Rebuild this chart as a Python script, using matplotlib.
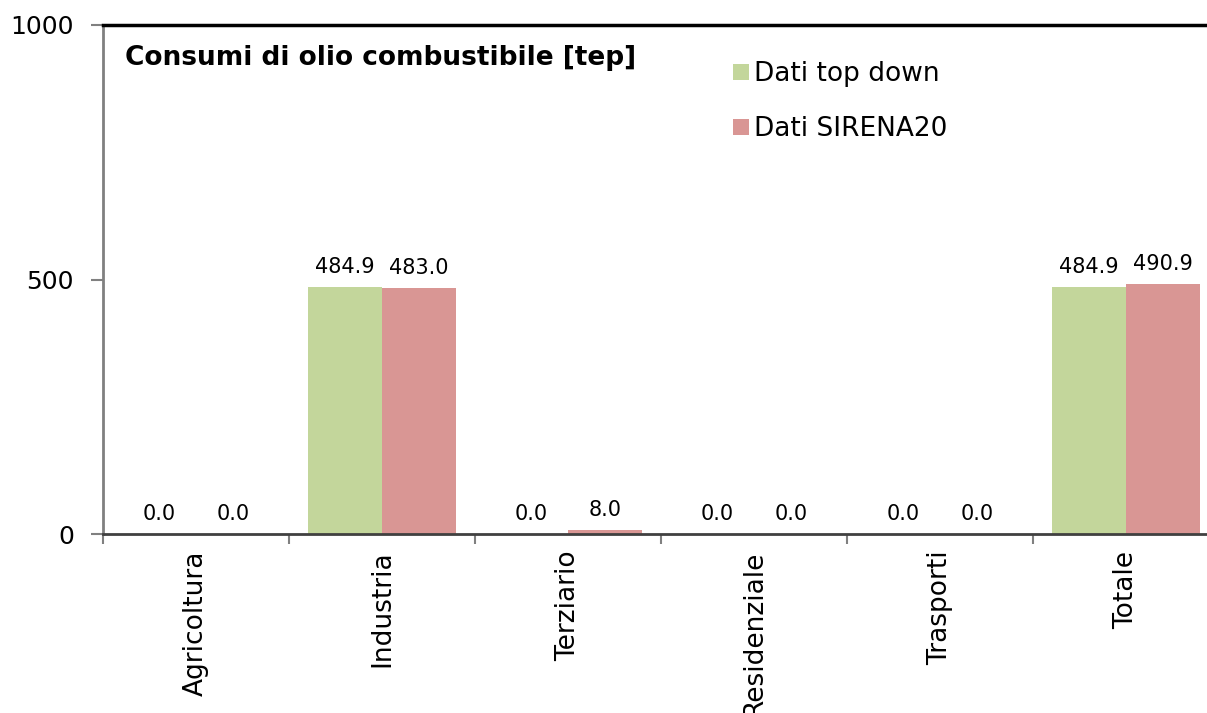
import matplotlib.pyplot as plt
import numpy as np

categories = ['Agricoltura', 'Industria', 'Terziario', 'Residenziale', 'Trasporti', 'Totale']
top_down = [0.0, 484.9, 0.0, 0.0, 0.0, 484.9]
sirena20 = [0.0, 483.0, 8.0, 0.0, 0.0, 490.9]
series_names = ['Dati top down', 'Dati SIRENA20']
title = 'Consumi di olio combustibile [tep]'

green = '#C3D69B'
red = '#D99694'

fig = plt.figure(figsize=(12.07, 7.13), dpi=100)
ax = fig.add_axes([103 / 1207, 179 / 713, 1116 / 1207, 509 / 713])

x = np.arange(len(categories)) + 0.5
w = 0.4
b1 = ax.bar(x - w / 2, top_down, w, color=green, label=series_names[0])
b2 = ax.bar(x + w / 2, sirena20, w, color=red, label=series_names[1])

for bars, vals in ((b1, top_down), (b2, sirena20)):
    for rect, v in zip(bars, vals):
        ax.annotate(f'{v:.1f}', (rect.get_x() + rect.get_width() / 2, v),
                    xytext=(0, 7), textcoords='offset points',
                    ha='center', va='bottom', fontsize=15)

ax.set_xlim(0, 6)
ax.set_ylim(0, 1000)
ax.set_yticks([0, 500, 1000])
ax.set_xticks(np.arange(len(categories) + 1))
ax.set_xticklabels([])
ax.set_xticks(x, minor=True)
ax.set_xticklabels(categories, minor=True, rotation=90, fontsize=19)
ax.tick_params(axis='x', which='minor', length=0, pad=12)
ax.tick_params(axis='x', which='major', length=7, width=1.5, color='#808080')
ax.tick_params(axis='y', length=9, width=1.5, color='#808080', labelsize=18, pad=12)

ax.spines['right'].set_visible(False)
ax.spines['left'].set_color('#808080')
ax.spines['left'].set_linewidth(2)
ax.spines['bottom'].set_color('#404040')
ax.spines['bottom'].set_linewidth(2)
ax.spines['top'].set_color('black')
ax.spines['top'].set_linewidth(2.5)

fig.text(125 / 1207, 1 - 58 / 713, title, fontsize=19, fontweight='bold', va='center', ha='left')

ax.legend(loc='upper left', bbox_to_anchor=(720 / 1207, 1 - 48 / 713),
          bbox_transform=fig.transFigure, frameon=False, fontsize=19,
          handlelength=0.6, handleheight=0.6, handletextpad=0.2, labelspacing=1.1,
          borderpad=0)

fig.savefig('out.png', dpi=100)
